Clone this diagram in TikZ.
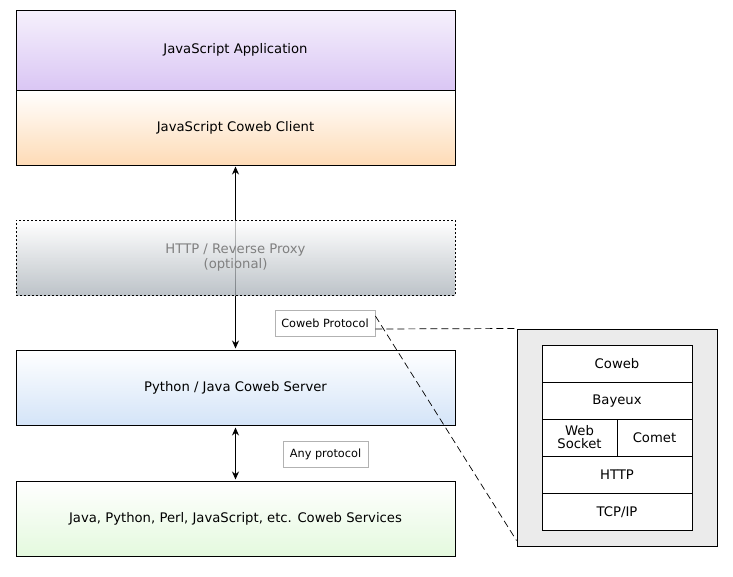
\documentclass[tikz,border=0pt]{standalone}
\usepackage{fontspec}
\setmainfont{DejaVu Sans}
\usetikzlibrary{positioning, arrows.meta}

\definecolor{appviolet}{HTML}{DAC6F4}
\definecolor{clientpeach}{HTML}{FEDBB6}
\definecolor{proxygray}{HTML}{A7AFB6}
\definecolor{serverblue}{HTML}{D4E4F8}
\definecolor{servicegreen}{HTML}{E4F9DE}
\definecolor{stackgray}{HTML}{EBEBEB}

\begin{document}
\begin{tikzpicture}[
    x=1pt, y=-1pt,
    >={Stealth[length=8pt, width=7pt]},
    font=\fontsize{13.2}{15}\selectfont,
    tier/.style={draw, line width=1pt, minimum width=439pt, minimum height=75pt, inner sep=0pt},
    tag/.style={draw=gray!60, line width=0.8pt, fill=white, font=\fontsize{11.3}{13}\selectfont, inner sep=2pt},
    layer/.style={draw, fill=white, line width=0.9pt, minimum width=150pt, minimum height=37pt, inner sep=0pt},
    zoomline/.style={dash pattern=on 7pt off 4pt, line width=0.7pt}
]
    \useasboundingbox (0,0) rectangle (733,576);

    % Client Side
    \node[tier, minimum height=80pt, top color=appviolet!25, bottom color=appviolet] (app) at (235.5,50) {JavaScript Application};
    \node[tier, top color=white, bottom color=clientpeach] (client) at (235.5,127.5) {JavaScript Coweb Client};

    % Server Side
    \node[tier, top color=white, bottom color=serverblue] (server) at (235.5,387.5) {Python / Java Coweb Server};
    \node[tier, top color=white, bottom color=servicegreen] (services) at (235.5,518.5) {Java, Python, Perl, JavaScript, etc. Coweb Services};

    % Connections
    \draw[<->, line width=0.9pt, shorten <=1pt, shorten >=1pt] (client.south) -- (server.north);
    \draw[<->, line width=0.9pt, shorten <=2pt, shorten >=1pt] (server.south) -- (services.north);

    % Proxy (optional)
    \node[tier, draw=black, dash pattern=on 2pt off 2pt, fill opacity=0.75, text opacity=1, text=black!50, align=center, top color=white, bottom color=proxygray] (proxy) at (235.5,257.5) {HTTP / Reverse Proxy\\(optional)};

    % Protocol labels
    \node[tag, minimum width=100pt, minimum height=26pt] (proto) at (325,323) {Coweb Protocol};
    \node[tag, minimum width=85pt, minimum height=26pt] (anyproto) at (325.5,454) {Any protocol};

    % Protocol stack
    \node[draw, line width=1pt, fill=stackgray, minimum width=200pt, minimum height=217pt] (stack) at (617,437.5) {};
    \node[layer] (coweb) at (617,363.5) {Coweb};
    \node[layer, below=0pt of coweb] (bayeux) {Bayeux};
    \node[layer, minimum width=75pt, align=center, font=\fontsize{13.2}{13}\selectfont] (websocket) at (579.5,437.5) {Web\\Socket};
    \node[layer, minimum width=75pt] (comet) at (654.5,437.5) {Comet};
    \node[layer] (http) at (617,474.5) {HTTP};
    \node[layer, below=0pt of http] (tcpip) {TCP/IP};

    % Zoom lines
    \draw[zoomline] ([yshift=-6pt]proto.east) -- (stack.north west);
    \draw[zoomline] ([yshift=7pt]proto.east) -- ([yshift=6pt]stack.south west);

\end{tikzpicture}
\end{document}
